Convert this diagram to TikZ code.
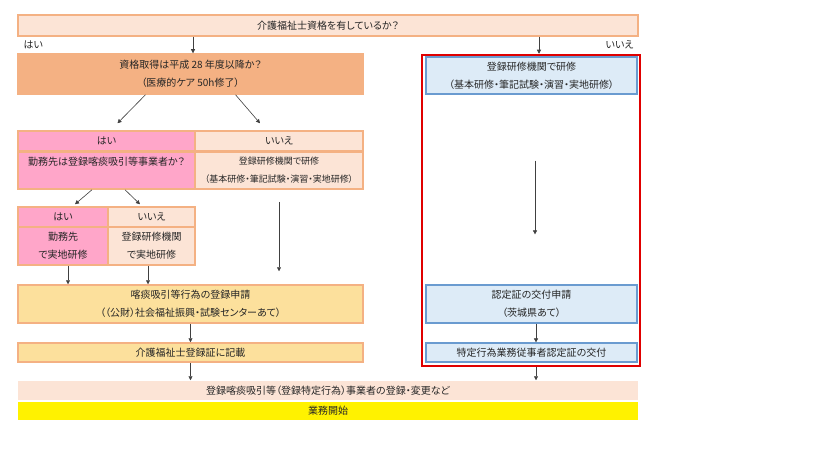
\documentclass[tikz,border=0pt]{standalone}
\usepackage{fontspec}
\setmainfont[RawFeature=+palt]{Noto Sans CJK JP}
\usetikzlibrary{arrows.meta}
\definecolor{peach}{HTML}{FCE4D6}
\definecolor{peachline}{HTML}{F4B183}
\definecolor{salmon}{HTML}{F4B183}
\definecolor{pinkbox}{HTML}{FFA6C9}
\definecolor{gold}{HTML}{FCE09C}
\definecolor{bluebox}{HTML}{DDEBF7}
\definecolor{blueline}{HTML}{6A9BD0}
\definecolor{framered}{HTML}{E00000}
\tikzset{
  cell/.style 2 args={draw=peachline, line width=1.5pt, fill=peach, inner sep=0pt,
      align=center, minimum width=#1pt, minimum height=#2pt},
  bcell/.style 2 args={cell={#1}{#2}, draw=blueline, fill=bluebox, line width=1.2pt},
  arr/.style={draw=black!75, line width=0.6pt, -{Triangle[width=4pt,length=4pt]}}
}

\begin{document}
\begin{tikzpicture}[x=1pt, y=-1pt, every node/.style={font=\fontsize{10}{18}\selectfont, text=black!85}]
\path [draw=none, fill=white] (0,0) rectangle (819,460);
\node [cell={620}{21}] (q0) at (328,25.5) {介護福祉士資格を有しているか？};
\node [anchor=west] (yes0) at (20,45) {はい};
\node [anchor=east] (no0) at (637,45) {いいえ};
\node [cell={345}{40}, fill=salmon] (q1) at (190.5,74) {資格取得は平成 28 年度以降か？\\（医療的ケア 50h修了）};
\node [cell={177}{20}, fill=pinkbox] (yes1) at (106.5,141) {はい};
\node [cell={168}{20}] (no1) at (279,141) {いいえ};
\node [cell={177}{37}, fill=pinkbox] (q2) at (106.5,170.5) {勤務先は登録喀痰吸引等事業者か？\\\phantom{（あ）}};
\node [cell={168}{37}, font=\fontsize{9}{18}\selectfont] (kenshu) at (279,170.5) {登録研修機関で研修\\（基本研修・筆記試験・演習・実地研修）};
\node [cell={90}{20}, fill=pinkbox] (yes2) at (63,217) {はい};
\node [cell={87}{20}] (no2) at (151.5,217) {いいえ};
\node [cell={90}{38}, fill=pinkbox] (kinmu) at (63,246) {勤務先\\で実地研修};
\node [cell={87}{38}] (kikan) at (151.5,246) {登録研修機関\\で実地研修};
\node [cell={345}{38}, fill=gold] (shinsei) at (190.5,304) {喀痰吸引等行為の登録申請\\（（公財）社会福祉振興・試験センターあて）};
\node [cell={345}{19}, fill=gold] (kisai) at (190.5,352.5) {介護福祉士登録証に記載};
\node [cell={620}{19}, draw=none] (jigyo) at (328,390.5) {登録喀痰吸引等（登録特定行為）事業者の登録・変更など};
\node [cell={620}{18}, draw=none, fill=yellow] (kaishi) at (328,411) {業務開始};
\node [draw=framered, line width=2.5pt, minimum width=218pt, minimum height=311pt, inner sep=0pt] (frame) at (531,210.5) {};
\node [bcell={211}{37}] (b1) at (531.5,75.5) {登録研修機関で研修\\（基本研修・筆記試験・演習・実地研修）};
\node [bcell={211}{38}] (b2) at (531.5,304) {認定証の交付申請\\（茨城県あて）};
\node [bcell={211}{19}] (b3) at (531.5,352.5) {特定行為業務従事者認定証の交付};

\draw [arr] ([xshift=2.5pt]q0.south -| q1.north) -- ([xshift=2.5pt]q1.north);
\draw [arr] ([xshift=7.5pt]q0.south -| b1.north) -- ([xshift=7.5pt]b1.north |- frame.north);
\draw [arr] ([xshift=-45pt]q1.south) -- ([xshift=11pt,yshift=7pt]yes1.north);
\draw [arr] ([xshift=45pt]q1.south) -- ([xshift=-19pt,yshift=7pt]no1.north);
\draw [arr] ([xshift=-14.5pt]q2.south) -- ([xshift=12pt,yshift=2pt]yes2.north);
\draw [arr] ([xshift=18.5pt]q2.south) -- ([xshift=-11.5pt,yshift=2pt]no2.north);
\draw [arr] ([xshift=5pt]kinmu.south) -- ([xshift=5pt]kinmu.south |- shinsei.north);
\draw [arr] ([xshift=-3.5pt]kikan.south) -- ([xshift=-3.5pt]kikan.south |- shinsei.north);
\draw [arr] ([yshift=-12pt]kenshu.south) -- ([yshift=13pt]kenshu.south |- shinsei.north);
\draw [arr] (shinsei.south) -- (kisai.north);
\draw [arr] (kisai.south) -- (kisai.south |- jigyo.north);
\draw [arr] ([xshift=3.5pt,yshift=-66pt]b1.south) -- ([xshift=3.5pt,yshift=50pt]b2.north);
\draw [arr] ([xshift=4.5pt]b2.south) -- ([xshift=4.5pt]b3.north);
\draw [arr] ([xshift=4.5pt]frame.south -| b3.south) -- ([xshift=4.5pt]b3.south |- jigyo.north);
\end{tikzpicture}
\end{document}
